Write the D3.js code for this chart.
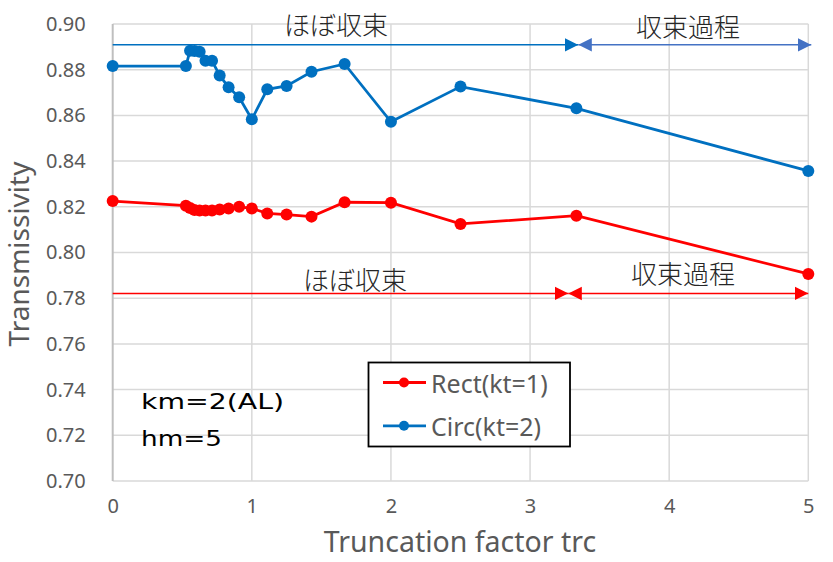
<!DOCTYPE html>
<html><head><meta charset="utf-8">
<script src="https://cdn.jsdelivr.net/npm/d3@7"></script>
<style>body{margin:0;background:#fff}svg{display:block}</style>
</head><body>
<svg id="c" width="833" height="562"></svg>
<script>
const xValues = [0, 0.526, 0.556, 0.588, 0.625, 0.667, 0.714, 0.769, 0.833, 0.909, 1.0, 1.111, 1.25, 1.429, 1.667, 2.0, 2.5, 3.333, 5.0];
const rectValues = [0.8225, 0.8205, 0.8195, 0.8186, 0.8184, 0.8184, 0.8184, 0.8188, 0.8193, 0.8200, 0.8193, 0.8171, 0.8166, 0.8157, 0.8220, 0.8218, 0.8125, 0.8161, 0.7906];
const circValues = [0.8816, 0.8816, 0.8883, 0.8882, 0.8879, 0.8839, 0.8839, 0.8775, 0.8723, 0.8679, 0.8583, 0.8714, 0.8729, 0.8791, 0.8825, 0.8572, 0.8726, 0.8631, 0.8357];
const xTicks = [0, 1, 2, 3, 4, 5];
const yTicks = [0.70, 0.72, 0.74, 0.76, 0.78, 0.80, 0.82, 0.84, 0.86, 0.88, 0.90];
const seriesNames = ["Rect(kt=1)", "Circ(kt=2)"];
const seriesColors = ["#FF0000", "#0070C0"];
const xTitle = "Truncation factor trc";
const yTitle = "Transmissivity";
const noteLines = ["km=2(AL)", "hm=5"];
const blueAnno = {y: 0.8909, split: 3.347, labels: ["ほぼ収束", "収束過程"]};
const redAnno = {y: 0.7821, split: 3.275, labels: ["ほぼ収束", "収束過程"]};

const svg = d3.select("#c");
const M = {l: 112.7, r: 808.3, t: 24, b: 481};
const x = d3.scaleLinear().domain([0, 5]).range([M.l, M.r]);
const y = d3.scaleLinear().domain([0.70, 0.90]).range([M.b, M.t]);
const font = "'Noto Sans', 'Noto Sans CJK JP', sans-serif";
const jfont = "'Noto Sans CJK JP', 'Noto Sans', sans-serif";
const gray = "#595959";

svg.append("g").selectAll("line").data(yTicks).join("line")
  .attr("x1", M.l).attr("x2", M.r).attr("y1", d => y(d)).attr("y2", d => y(d))
  .attr("stroke", "#d9d9d9").attr("stroke-width", 1.5);
svg.append("g").selectAll("line").data(xTicks).join("line")
  .attr("y1", M.t).attr("y2", M.b).attr("x1", d => x(d)).attr("x2", d => x(d))
  .attr("stroke", d => d === 0 ? "#bfbfbf" : "#d9d9d9").attr("stroke-width", d => d === 0 ? 2 : 1.5);

const ya = svg.append("g").attr("transform", `translate(${M.l},0)`)
  .call(d3.axisLeft(y).tickValues(yTicks).tickFormat(d3.format(".2f")).tickSize(0).tickPadding(27));
const xa = svg.append("g").attr("transform", `translate(0,${M.b})`)
  .call(d3.axisBottom(x).tickValues(xTicks).tickFormat(d3.format("d")).tickSize(0).tickPadding(18));
[ya, xa].forEach(a => {
  a.select(".domain").remove();
  a.selectAll("text").attr("fill", gray).style("font-family", font).style("font-size", "20px");
});

svg.append("text").attr("transform", "translate(29,254) rotate(-90)").attr("text-anchor", "middle")
  .attr("fill", gray).style("font-family", font).style("font-size", "28px").text(yTitle);
svg.append("text").attr("x", 460).attr("y", 552).attr("text-anchor", "middle")
  .attr("fill", gray).style("font-family", font).style("font-size", "28.5px").text(xTitle);

const defs = svg.append("defs");
function mk(id, color) {
  defs.append("marker").attr("id", id).attr("viewBox", "0 0 10 10").attr("refX", 10).attr("refY", 5)
    .attr("markerWidth", 9).attr("markerHeight", 10).attr("markerUnits", "strokeWidth").attr("orient", "auto-start-reverse")
    .append("path").attr("d", "M0,0L10,5L0,10Z").attr("fill", color);
}
mk("aBlue1", "#0070C0"); mk("aBlue2", "#4472C4"); mk("aRed", "#FF0000");

function anno(a, c1, c2, m1, m2, extra) {
  svg.append("line").attr("x1", x(0)).attr("x2", x(a.split)).attr("y1", y(a.y)).attr("y2", y(a.y))
    .attr("stroke", c1).attr("stroke-width", 1.5).attr("marker-end", `url(#${m1})`);
  svg.append("line").attr("x1", x(a.split)).attr("x2", x(5) + extra).attr("y1", y(a.y)).attr("y2", y(a.y))
    .attr("stroke", c2).attr("stroke-width", 1.5).attr("marker-end", `url(#${m2})`).attr("marker-start", `url(#${m2})`);
}
anno(blueAnno, "#0070C0", "#4472C4", "aBlue1", "aBlue2", 3);
anno(redAnno, "#FF0000", "#FF0000", "aRed", "aRed", 0);

function jtext(txt, cx, cy) {
  svg.append("text").attr("x", cx).attr("y", cy).attr("text-anchor", "middle").attr("dominant-baseline", "central")
    .attr("fill", "#262626").style("font-family", jfont).style("font-size", "26px").style("font-weight", 300).text(txt);
}
jtext(blueAnno.labels[0], 336, 23);
jtext(blueAnno.labels[1], 688, 25);
jtext(redAnno.labels[0], 355, 278);
jtext(redAnno.labels[1], 683, 272.5);

const data = [rectValues, circValues];
const line = d3.line().x((d, i) => x(xValues[i])).y(d => y(d));
data.forEach((vals, k) => {
  const g = svg.append("g");
  g.append("path").attr("d", line(vals)).attr("fill", "none").attr("stroke", seriesColors[k]).attr("stroke-width", 2.8);
  g.selectAll("circle").data(vals).join("circle")
    .attr("cx", (d, i) => x(xValues[i])).attr("cy", d => y(d)).attr("r", 6).attr("fill", seriesColors[k]);
});

const lg = svg.append("g");
lg.append("rect").attr("x", 368.5).attr("y", 362.5).attr("width", 201.5).attr("height", 84)
  .attr("fill", "#fff").attr("stroke", "#000").attr("stroke-width", 1.8);
seriesNames.forEach((n, k) => {
  const cy = 382.5 + k * 43.3;
  lg.append("line").attr("x1", 383).attr("x2", 426).attr("y1", cy).attr("y2", cy).attr("stroke", seriesColors[k]).attr("stroke-width", 2.8);
  lg.append("circle").attr("cx", 404).attr("cy", cy).attr("r", 5).attr("fill", seriesColors[k]);
  lg.append("text").attr("x", 431).attr("y", cy).attr("dominant-baseline", "central").attr("fill", gray)
    .style("font-family", font).style("font-size", "25px").text(n);
});

const noteWidths = [143, 81];
noteLines.forEach((t, i) => {
  svg.append("text").attr("x", 141).attr("y", 409 + i * 37).attr("fill", "#000")
    .attr("textLength", noteWidths[i]).attr("lengthAdjust", "spacingAndGlyphs")
    .style("font-family", "'DejaVu Sans', sans-serif").style("font-size", "22px").text(t);
});
</script>
</body></html>
